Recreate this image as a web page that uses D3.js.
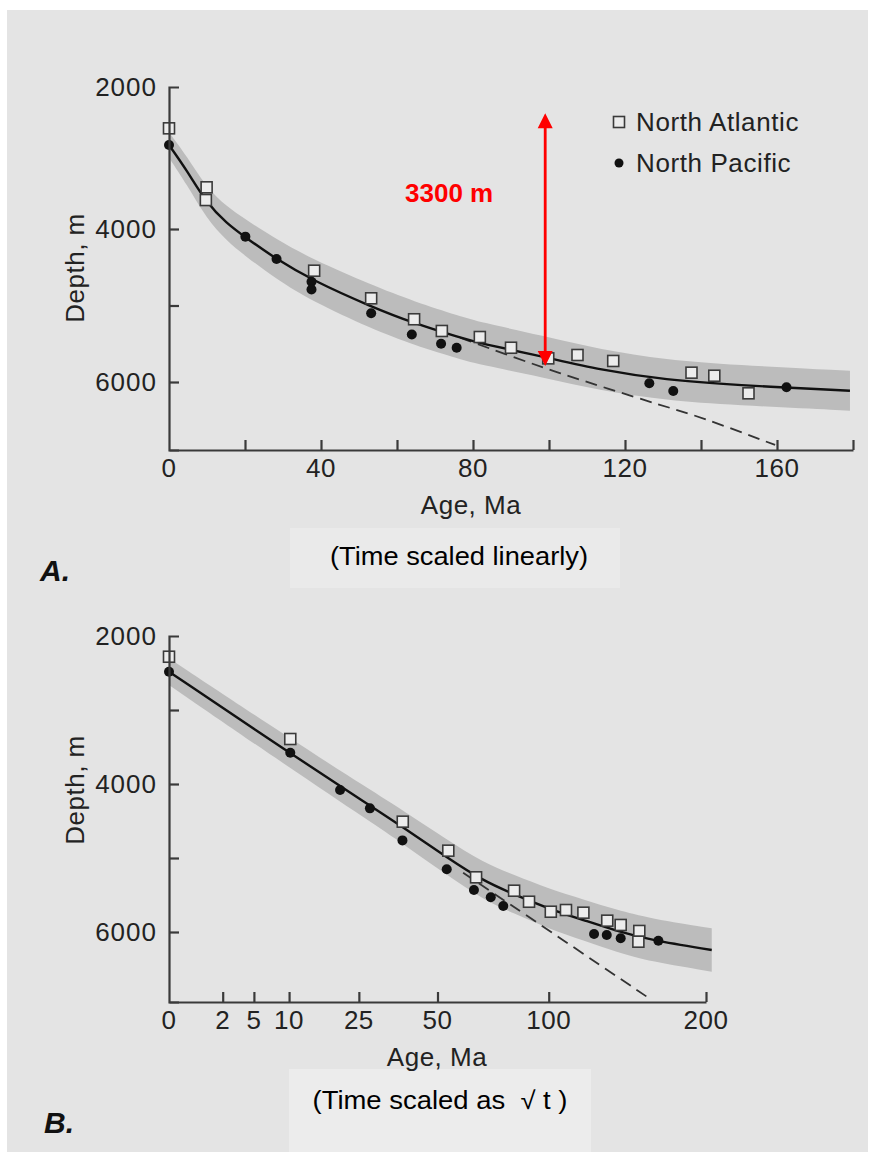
<!DOCTYPE html>
<html>
<head>
<meta charset="utf-8">
<script src="https://cdn.jsdelivr.net/npm/d3@7"></script>
<style>
  html, body { margin: 0; padding: 0; background: #fff; }
  svg { display: block; }
  text { font-family: 'Liberation Sans', Arial, sans-serif; }
</style>
</head>
<body>
<div id="chart"></div>
<script>
/* global d3 */

// ---- data (age in Ma, depth in m) ----
const ageTicksA = [0, 20, 40, 60, 80, 100, 120, 140, 160, 180]
const ageLabelsA = [0, 40, 80, 120, 160]
const ageTicksB = [2, 5, 10, 25, 50, 100, 200]
const ageLabelsB = [0, 2, 5, 10, 25, 50, 100, 200]
const depthTicksA = [4000, 5000, 6000]
const depthTicksB = [3000, 4000, 5000, 6000]
const depthLabels = [2000, 4000, 6000]

// panel A (time linear)
const atlanticA = [[0, 2582], [9.9, 3413], [9.7, 3592], [38.2, 4545], [53.2, 4906], [64.5, 5180], [71.8, 5333], [81.8, 5412], [90, 5552], [99.8, 5691], [107.5, 5647], [116.9, 5725], [137.5, 5878], [143.5, 5918], [152.5, 6148]]
const pacificA = [[0, 2817], [20.1, 4100], [28.3, 4392], [37.5, 4690], [37.5, 4790], [53.2, 5102], [63.9, 5379], [71.6, 5501], [75.7, 5553], [126.4, 6017], [132.7, 6118], [162.5, 6069]]
const curveA = [[0, 2817], [4.65, 3169], [9.9, 3638], [15.2, 3920], [20.1, 4109], [28.3, 4396], [37.6, 4667], [53.2, 5016], [64.5, 5233], [76.6, 5420], [81.8, 5494], [98.5, 5669], [113.4, 5843], [131, 5974], [148.5, 6039], [179.2, 6114]]
const bandA = [180, 200, 220, 235, 245, 260, 275, 285, 285, 280, 278, 272, 268, 265, 263, 261]
const dashedA = [[76.6, 5420], [91.5, 5691], [102.9, 5887], [115.2, 6082], [129.2, 6301], [139.7, 6453], [159.5, 6824]]

// panel B (time as sqrt t)
const atlanticB = [[0, 2280], [10.2, 3392], [37.9, 4509], [54.1, 4901], [65.4, 5261], [82.6, 5442], [89.9, 5591], [101.1, 5726], [109.3, 5703], [119.1, 5739], [133.2, 5847], [141.5, 5905], [153.4, 5986], [152.8, 6131]]
const pacificB = [[0, 2482], [10.2, 3577], [20.3, 4081], [28.0, 4329], [37.8, 4762], [53.5, 5153], [64.5, 5432], [71.8, 5531], [77.5, 5649], [125.3, 6027], [132.9, 6041], [141.5, 6085], [166.1, 6118]]
const curveB = [[0, 2482], [10.2, 3588], [28, 4291], [37.9, 4581], [53.5, 4990], [68.5, 5310], [82.2, 5486], [100.7, 5693], [119.1, 5838], [139, 5986], [160.5, 6108], [204.3, 6243]]
const bandB = [180, 200, 215, 225, 240, 250, 260, 270, 278, 285, 290, 293]
const dashedB = [[60, 5200], [100.7, 5990], [161.6, 6919]]

// red annotation in panel A
const arrowAge = 99
const arrowDepths = [2370, 5790]
const arrowLabel = '3300 m'

const W = 870
const H = 1159
const INK = '#222'

const svg = d3.select('#chart')
  .append('svg')
  .attr('width', W)
  .attr('height', H)

// scanned page background
svg.append('rect')
  .attr('x', 7).attr('y', 10)
  .attr('width', 861).attr('height', 1142)
  .attr('fill', '#e4e4e4')
svg.append('rect')
  .attr('x', 290).attr('y', 528)
  .attr('width', 330).attr('height', 60)
  .attr('fill', '#eaeaea')
svg.append('rect')
  .attr('x', 289).attr('y', 1069)
  .attr('width', 302).attr('height', 83)
  .attr('fill', '#ececec')

function drawPanel (p) {
  const g = svg.append('g')
  const x0 = p.x.range()[0]
  const yBottom = p.y.range()[p.y.range().length - 1]

  // envelope
  g.append('path')
    .datum(p.curve)
    .attr('d', d3.area()
      .x((d) => p.x(d[0]))
      .y0((d, i) => p.y(d[1] - p.band[i]))
      .y1((d, i) => p.y(d[1] + p.band[i]))
      .curve(d3.curveBasis))
    .attr('fill', '#bcbcbc')

  // sqrt(t) line
  g.append('path')
    .datum(p.dashed)
    .attr('d', d3.line()
      .x((d) => p.x(d[0]))
      .y((d) => p.y(d[1]))
      .curve(d3.curveBasis))
    .attr('fill', 'none')
    .attr('stroke', '#333')
    .attr('stroke-width', 1.8)
    .attr('stroke-dasharray', '12,7')

  // model curve
  g.append('path')
    .datum(p.curve)
    .attr('d', d3.line()
      .x((d) => p.x(d[0]))
      .y((d) => p.y(d[1]))
      .curve(d3.curveBasis))
    .attr('fill', 'none')
    .attr('stroke', '#111')
    .attr('stroke-width', 2.4)

  g.selectAll('rect.atl')
    .data(p.atlantic)
    .join('rect')
    .attr('class', 'atl')
    .attr('x', (d) => p.x(d[0]) - 5.5)
    .attr('y', (d) => p.y(d[1]) - 5.5)
    .attr('width', 11)
    .attr('height', 11)
    .attr('fill', '#ececec')
    .attr('stroke', '#3a3a3a')
    .attr('stroke-width', 1.6)

  g.selectAll('circle.pac')
    .data(p.pacific)
    .join('circle')
    .attr('class', 'pac')
    .attr('cx', (d) => p.x(d[0]))
    .attr('cy', (d) => p.y(d[1]))
    .attr('r', 5)
    .attr('fill', '#111')

  // axes, ticks pointing inward
  const xAxis = g.append('g')
    .attr('transform', `translate(0,${yBottom})`)
    .call(d3.axisTop(p.x).tickValues(p.xTicks).tickSize(10).tickSizeOuter(0).tickFormat(''))
  const yAxis = g.append('g')
    .attr('transform', `translate(${x0},0)`)
    .call(d3.axisRight(p.y).tickValues(p.yTicks).tickSize(10).tickSizeOuter(10).tickFormat(''))
  ;[xAxis, yAxis].forEach((a) => {
    a.selectAll('path, line').attr('stroke', '#3a3a3a').attr('stroke-width', 2.2)
  })

  g.selectAll('text.xl')
    .data(p.xLabels)
    .join('text')
    .attr('class', 'xl')
    .attr('x', (d) => p.x(d))
    .attr('y', yBottom + 27)
    .attr('text-anchor', 'middle')
    .attr('font-size', 26)
    .attr('letter-spacing', 0.5)
    .attr('fill', INK)
    .text((d) => d)

  g.selectAll('text.yl')
    .data(depthLabels)
    .join('text')
    .attr('class', 'yl')
    .attr('x', x0 - 12)
    .attr('y', (d) => p.y(d) + 9)
    .attr('text-anchor', 'end')
    .attr('font-size', 26)
    .attr('letter-spacing', 1)
    .attr('fill', INK)
    .text((d) => d)

  g.append('text')
    .attr('transform', `translate(84,${p.yTitle}) rotate(-90)`)
    .attr('text-anchor', 'middle')
    .attr('font-size', 26)
    .attr('letter-spacing', 0.5)
    .attr('fill', INK)
    .text('Depth, m')

  g.append('text')
    .attr('x', p.xTitle)
    .attr('y', yBottom + 64)
    .attr('text-anchor', 'middle')
    .attr('font-size', 26)
    .attr('letter-spacing', 0.5)
    .attr('fill', INK)
    .text('Age, Ma')

  g.append('text')
    .attr('x', p.caption.x)
    .attr('y', p.caption.y)
    .attr('text-anchor', 'middle')
    .attr('font-size', 25)
    .attr('textLength', p.caption.len)
    .attr('lengthAdjust', 'spacingAndGlyphs')
    .style('white-space', 'pre')
    .attr('fill', '#000')
    .text(p.caption.text)

  g.append('text')
    .attr('x', p.letter.x)
    .attr('y', p.letter.y)
    .attr('font-size', 30)
    .attr('font-weight', 'bold')
    .attr('font-style', 'italic')
    .attr('fill', '#111')
    .text(p.letter.text)
}

const xA = d3.scaleLinear().domain([0, 180]).range([169, 853])
const yA = d3.scaleLinear().domain([2000, 4000, 6000, 6890]).range([87, 229, 382, 450])
const xB = d3.scaleSqrt().domain([0, 200]).range([169, 706])
const yB = d3.scaleLinear().domain([2000, 6946]).range([636, 1002])

drawPanel({
  x: xA,
  y: yA,
  xTicks: ageTicksA.filter((d) => d > 0),
  yTicks: depthTicksA,
  xLabels: ageLabelsA,
  atlantic: atlanticA,
  pacific: pacificA,
  curve: curveA,
  band: bandA,
  dashed: dashedA,
  yTitle: 268,
  xTitle: 471,
  caption: { x: 459, y: 565, len: 258, text: '(Time scaled linearly)' },
  letter: { x: 40, y: 581, text: 'A.' }
})

drawPanel({
  x: xB,
  y: yB,
  xTicks: ageTicksB,
  yTicks: depthTicksB,
  xLabels: ageLabelsB,
  atlantic: atlanticB,
  pacific: pacificB,
  curve: curveB,
  band: bandB,
  dashed: dashedB,
  yTitle: 790,
  xTitle: 437,
  caption: { x: 440, y: 1109, len: 255, text: '(Time scaled as  \u221A t )' },
  letter: { x: 44, y: 1133, text: 'B.' }
})

// legend (panel A)
const legend = svg.append('g').attr('transform', 'translate(619,122)')
legend.append('rect')
  .attr('x', -5.5).attr('y', -5.5)
  .attr('width', 11).attr('height', 11)
  .attr('fill', '#ececec').attr('stroke', '#3a3a3a').attr('stroke-width', 1.6)
legend.append('circle')
  .attr('cx', 0).attr('cy', 41).attr('r', 4.5).attr('fill', '#111')
legend.selectAll('text')
  .data(['North Atlantic', 'North Pacific'])
  .join('text')
  .attr('x', 17)
  .attr('y', (d, i) => 9 + i * 41)
  .attr('font-size', 26)
  .attr('letter-spacing', 0.6)
  .attr('fill', INK)
  .text((d) => d)

// red 3300 m arrow
const ax = xA(arrowAge)
const [aTop, aBot] = arrowDepths.map((d) => yA(d))
svg.append('line')
  .attr('x1', ax).attr('x2', ax)
  .attr('y1', aTop + 12).attr('y2', aBot - 12)
  .attr('stroke', '#ff0000').attr('stroke-width', 2.8)
svg.append('path')
  .attr('d', `M${ax},${aTop} l-7.5,15 h15 Z M${ax},${aBot} l-7.5,-15 h15 Z`)
  .attr('fill', '#ff0000')
svg.append('text')
  .attr('x', ax - 52)
  .attr('y', 202)
  .attr('text-anchor', 'end')
  .attr('font-size', 26)
  .attr('font-weight', 'bold')
  .attr('fill', '#ff0000')
  .text(arrowLabel)
</script>
</body>
</html>
